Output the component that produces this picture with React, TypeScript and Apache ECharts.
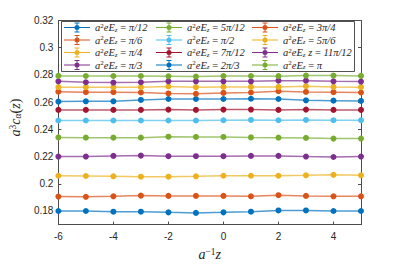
import React, { useEffect, useRef } from "react";
import * as echarts from "echarts";

const zValues = [-6, -5, -4, -3, -2, -1, 0, 1, 2, 3, 4, 5];

const fieldLabels = ["π/12", "π/6", "π/4", "π/3", "5π/12", "π/2", "7π/12", "2π/3", "3π/4", "5π/6", "11π/12", "π"];

const s1 = [0.1800, 0.1800, 0.1795, 0.1795, 0.1790, 0.1786, 0.1790, 0.1795, 0.1804, 0.1804, 0.1800, 0.1800];
const s2 = [0.1906, 0.1904, 0.1908, 0.1913, 0.1911, 0.1911, 0.1911, 0.1908, 0.1916, 0.1911, 0.1908, 0.1908];
const s3 = [0.2059, 0.2057, 0.2055, 0.2052, 0.2052, 0.2055, 0.2059, 0.2059, 0.2059, 0.2062, 0.2066, 0.2062];
const s4 = [0.2200, 0.2200, 0.2205, 0.2207, 0.2203, 0.2203, 0.2203, 0.2205, 0.2205, 0.2200, 0.2197, 0.2200];
const s5 = [0.2341, 0.2339, 0.2339, 0.2339, 0.2346, 0.2344, 0.2344, 0.2341, 0.2339, 0.2337, 0.2332, 0.2332];
const s6 = [0.2465, 0.2465, 0.2465, 0.2465, 0.2465, 0.2465, 0.2467, 0.2469, 0.2467, 0.2469, 0.2467, 0.2467];
const s7 = [0.2543, 0.2543, 0.2543, 0.2543, 0.2545, 0.2543, 0.2545, 0.2545, 0.2543, 0.2545, 0.2543, 0.2543];
const s8 = [0.2604, 0.2606, 0.2606, 0.2616, 0.2623, 0.2623, 0.2623, 0.2625, 0.2623, 0.2613, 0.2611, 0.2609];
const s9 = [0.2677, 0.2673, 0.2673, 0.2671, 0.2664, 0.2661, 0.2668, 0.2671, 0.2680, 0.2675, 0.2673, 0.2671];
const s10 = [0.2710, 0.2710, 0.2710, 0.2710, 0.2715, 0.2710, 0.2712, 0.2712, 0.2712, 0.2717, 0.2712, 0.2710];
const s11 = [0.2753, 0.2746, 0.2744, 0.2746, 0.2753, 0.2753, 0.2753, 0.2753, 0.2758, 0.2758, 0.2753, 0.2751];
const s12 = [0.2793, 0.2792, 0.2792, 0.2792, 0.2790, 0.2788, 0.2792, 0.2792, 0.2791, 0.2795, 0.2795, 0.2793];

const seriesValues = [s1, s2, s3, s4, s5, s6, s7, s8, s9, s10, s11, s12];

const colors = ["#0072BD", "#D95319", "#EDB120", "#7E2F8E", "#77AC30", "#4DBEEE", "#A2142F",
  "#0072BD", "#D95319", "#EDB120", "#7E2F8E", "#77AC30"];

const yTicks = [0.18, 0.2, 0.22, 0.24, 0.26, 0.28, 0.3, 0.32];
const xTicks = [-6, -4, -2, 0, 2, 4];

const axisColor = "#4d4d4d";
const labelColor = "#262626";
const mathFont = "Liberation Serif";

const legendIcon =
  "path://M0 4.5H26V5.5H0Z M12.5 0H13.5V10H12.5Z M10.5 0H15.5V1H10.5Z M10.5 9H15.5V10H10.5Z M10.5 5A2.5 2.5 0 1 1 15.5 5A2.5 2.5 0 1 1 10.5 5Z";

const richMath = {
  i: { fontFamily: mathFont, fontStyle: "italic", fontSize: 10.5, color: labelColor, lineHeight: 11 },
  r: { fontFamily: mathFont, fontSize: 10.5, color: labelColor, lineHeight: 11 },
  sup: { fontFamily: mathFont, fontSize: 7, color: labelColor, verticalAlign: "top", lineHeight: 11 },
  sub: { fontFamily: mathFont, fontStyle: "italic", fontSize: 7, color: labelColor, verticalAlign: "bottom", lineHeight: 11 },
};

const richAxis = {
  i: { fontFamily: mathFont, fontStyle: "italic", fontSize: 14, color: labelColor, lineHeight: 15 },
  r: { fontFamily: mathFont, fontSize: 14, color: labelColor, lineHeight: 15 },
  sup: { fontFamily: mathFont, fontSize: 9.5, color: labelColor, verticalAlign: "top", lineHeight: 15 },
  sub: { fontFamily: mathFont, fontStyle: "italic", fontSize: 9.5, color: labelColor, verticalAlign: "bottom", lineHeight: 15 },
};

function legendFormatter(name: string) {
  const extra = name === "11π/12" ? "{i| z}" : "";
  return `{i|a}{sup|2}{i|eE}{sub|z}${extra}{r| = }{i|${name}}`;
}

export default function App() {
  const ref = useRef<HTMLDivElement>(null);
  useEffect(() => {
    if (!ref.current) return;
    const chart = echarts.init(ref.current, undefined, { renderer: "svg" });
    const series = seriesValues.map((vals, k) => ({
      name: fieldLabels[k],
      type: "line",
      xAxisIndex: 0,
      yAxisIndex: 0,
      data: vals.map((v, j) => [zValues[j], v]),
      symbol: "circle",
      symbolSize: 6,
      color: colors[k],
      lineStyle: { width: 1.5, opacity: 0.7, color: colors[k] },
      itemStyle: { color: colors[k] },
    }));
    const cols = [fieldLabels.slice(0, 4), fieldLabels.slice(4, 8), fieldLabels.slice(8, 12)];
    const lefts = [64, 156, 252];
    const legends = cols.map((data, c) => ({
      show: true,
      orient: "vertical",
      left: lefts[c],
      top: 22,
      padding: 0,
      data,
      icon: legendIcon,
      itemWidth: 26,
      itemHeight: 10,
      itemGap: 1.5,
      selectedMode: false,
      z: 6,
      formatter: legendFormatter,
      textStyle: { rich: richMath },
    }));
    chart.setOption({
      animation: false,
      backgroundColor: "#ffffff",
      grid: { left: 52, right: 38, top: 20.5, bottom: 33.5, containLabel: false },
      legend: legends,
      graphic: [
        {
          type: "rect",
          shape: { x: 61.5, y: 21.5, width: 293, height: 50 },
          style: { fill: "#ffffff", stroke: "#262626", lineWidth: 0.8 },
          z: 5,
        },
      ],
      xAxis: [
        {
          type: "value",
          min: -6,
          max: 5,
          interval: 2,
          position: "bottom",
          name: "{i|a}{sup|−1}{i|z}",
          nameLocation: "middle",
          nameGap: 19,
          nameTextStyle: { rich: richAxis },
          axisLine: { show: true, onZero: false, lineStyle: { color: axisColor, width: 1 } },
          axisTick: { show: true, inside: true, length: 3, customValues: xTicks, lineStyle: { color: axisColor } },
          axisLabel: {
            customValues: xTicks,
            color: labelColor,
            fontFamily: "Liberation Sans",
            fontSize: 10,
            margin: 7,
          },
          splitLine: { show: false },
        },
        {
          type: "value",
          min: -6,
          max: 5,
          interval: 2,
          position: "top",
          axisLine: { show: true, onZero: false, lineStyle: { color: axisColor, width: 1 } },
          axisTick: { show: true, inside: true, length: 3, customValues: xTicks, lineStyle: { color: axisColor } },
          axisLabel: { show: false },
          splitLine: { show: false },
        },
      ],
      yAxis: [
        {
          type: "value",
          min: 0.17,
          max: 0.32,
          position: "left",
          name: "{i|a}{sup|3}{i|c}{sub|α}{r|(}{i|z}{r|)}",
          nameLocation: "middle",
          nameGap: 29,
          nameRotate: 90,
          nameTextStyle: { rich: richAxis, padding: [0, 0, 0, 10] },
          axisLine: { show: true, onZero: false, lineStyle: { color: axisColor, width: 1 } },
          axisTick: { show: true, inside: true, length: 3, customValues: yTicks, lineStyle: { color: axisColor } },
          axisLabel: {
            customValues: yTicks,
            color: labelColor,
            fontFamily: "Liberation Sans",
            fontSize: 10,
            margin: 5,
            formatter: (v: number) => String(+v.toFixed(2)),
          },
          splitLine: { show: false },
        },
        {
          type: "value",
          min: 0.17,
          max: 0.32,
          position: "right",
          axisLine: { show: true, onZero: false, lineStyle: { color: axisColor, width: 1 } },
          axisTick: { show: true, inside: true, length: 3, customValues: yTicks, lineStyle: { color: axisColor } },
          axisLabel: { show: false },
          splitLine: { show: false },
        },
      ],
      series,
    });
    return () => chart.dispose();
  }, []);
  return <div ref={ref} style={{ position: "fixed", left: 0, top: 0, width: 399, height: 266 }} />;
}
